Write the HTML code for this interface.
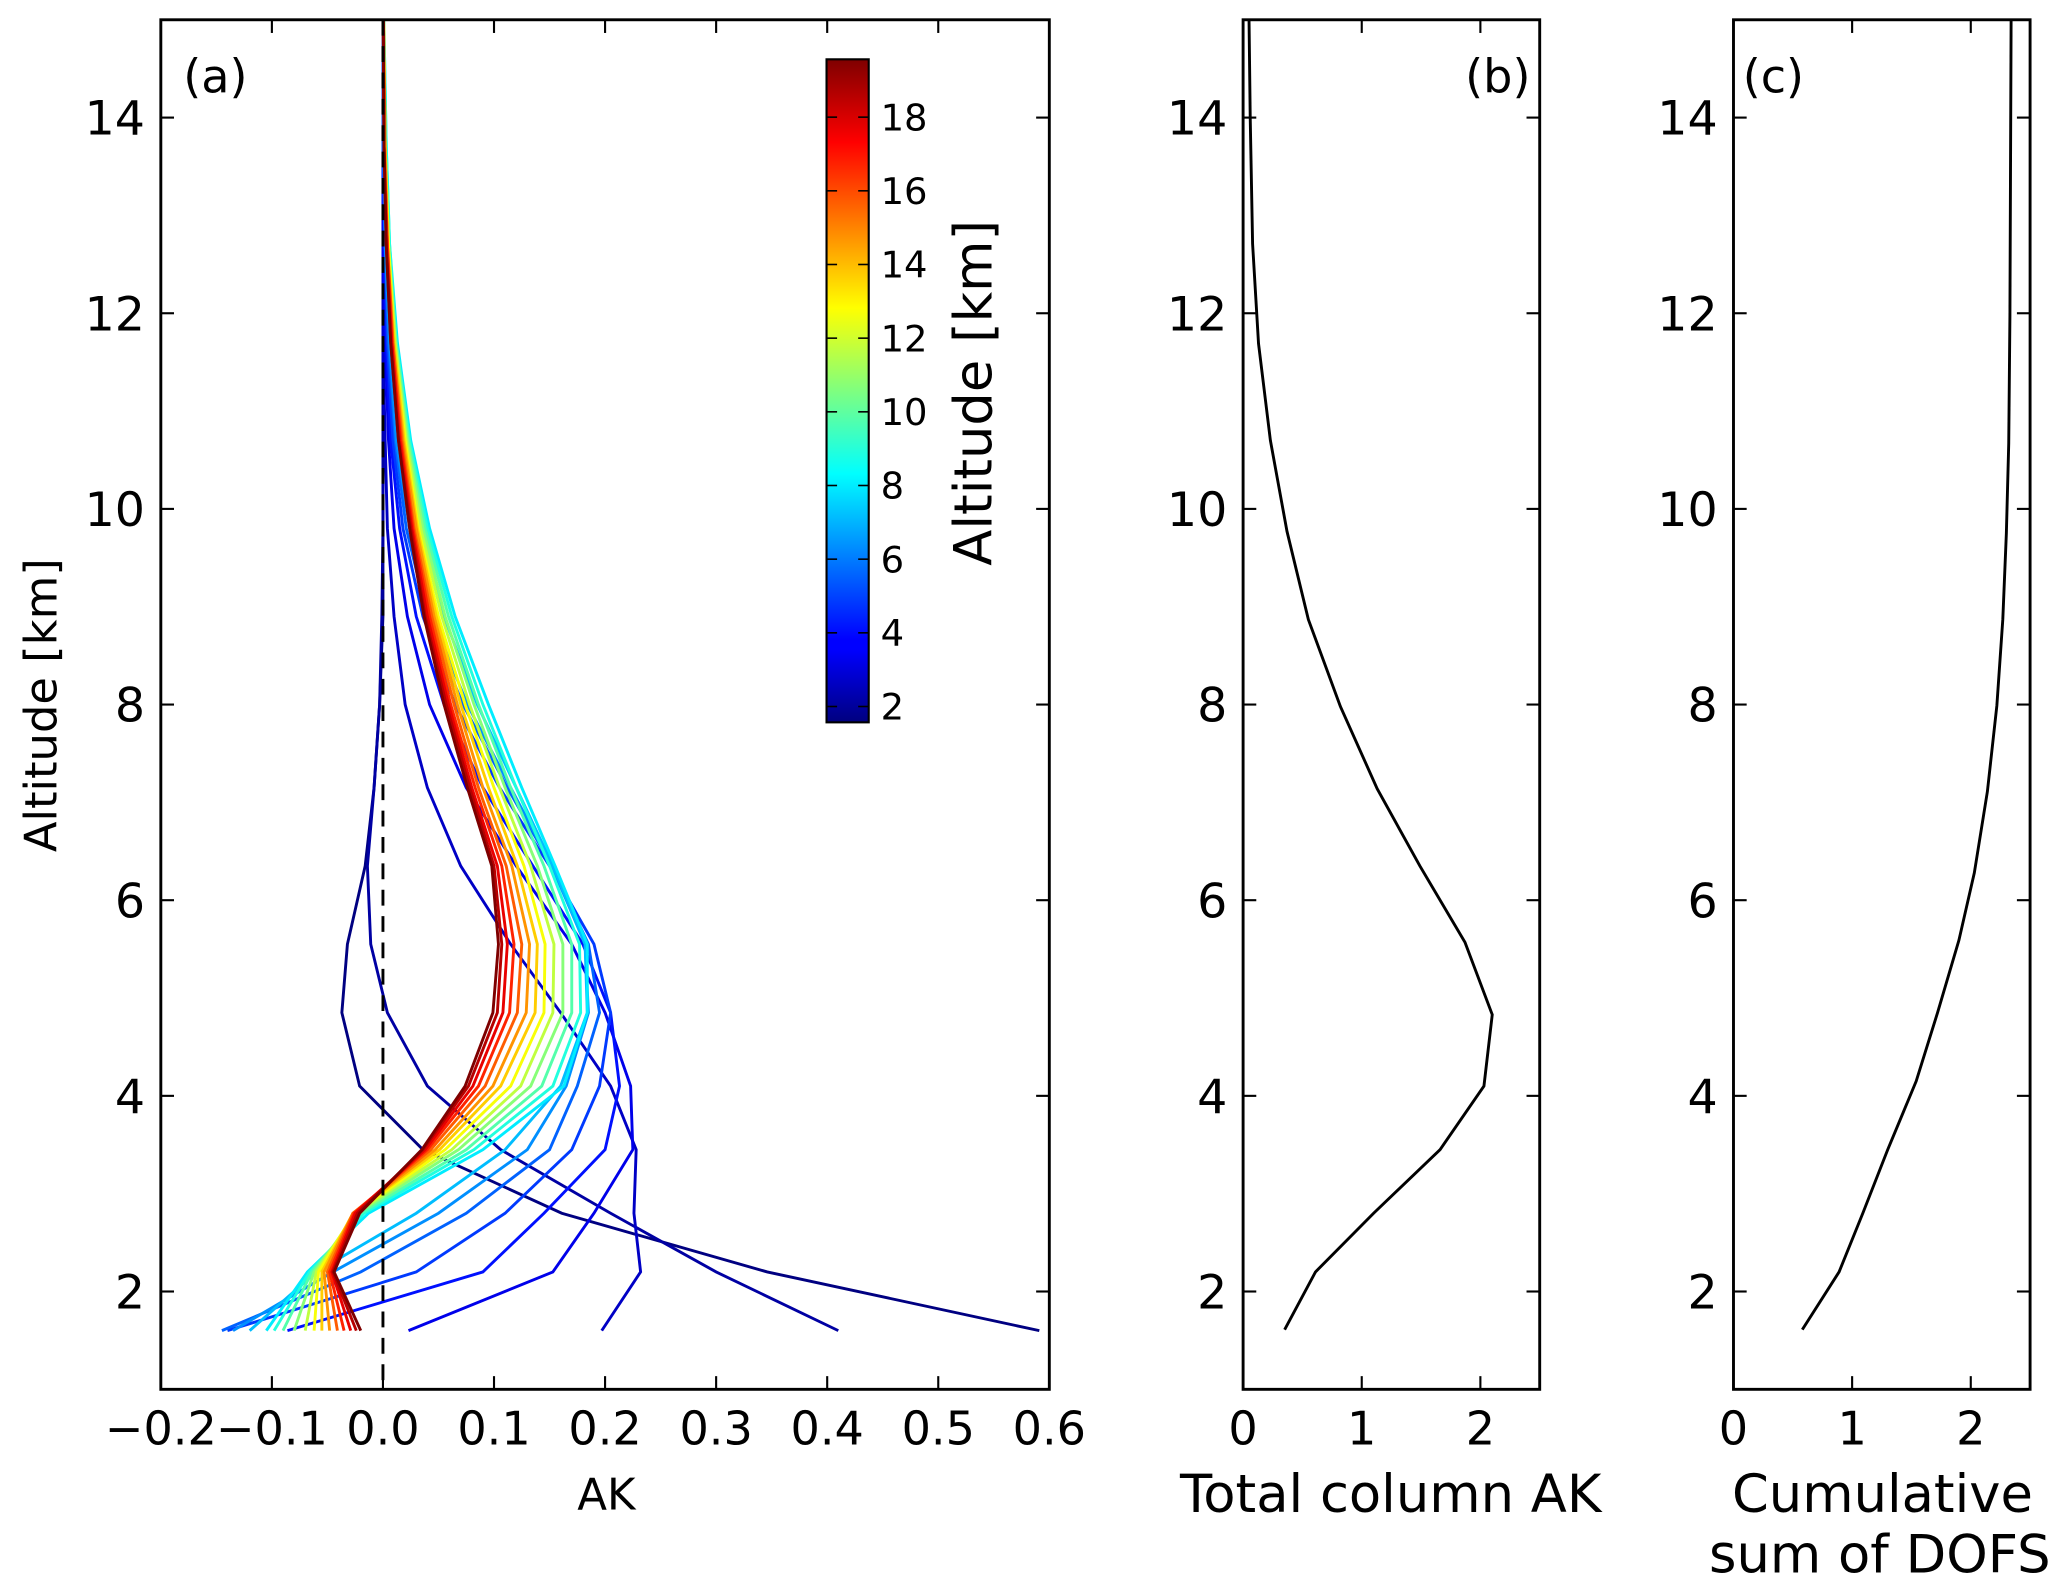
<!DOCTYPE html>
<html><head><meta charset="utf-8"><style>
html,body{margin:0;padding:0;background:#fff}
svg{display:block}
text{font-family:"DejaVu Sans","Liberation Sans",sans-serif;fill:#000}
</style></head><body>
<svg id="fig" width="2067" height="1591" viewBox="0 0 1568 1207" preserveAspectRatio="none" xmlns="http://www.w3.org/2000/svg">
<defs>
<clipPath id="clipA"><rect x="122" y="15" width="674" height="1039"/></clipPath>
<clipPath id="clipB"><rect x="943" y="15" width="225" height="1039"/></clipPath>
<clipPath id="clipC"><rect x="1315" y="15" width="225" height="1039"/></clipPath>
<linearGradient id="jetGrad" x1="0" y1="1" x2="0" y2="0">
<stop offset="0" stop-color="#00007f"/><stop offset="0.11" stop-color="#0000ff"/>
<stop offset="0.125" stop-color="#0000ff"/><stop offset="0.375" stop-color="#00ffff"/>
<stop offset="0.5" stop-color="#7fff7f"/><stop offset="0.625" stop-color="#ffff00"/>
<stop offset="0.875" stop-color="#ff0000"/><stop offset="1" stop-color="#7f0000"/>
</linearGradient>
</defs>
<g id="layer"></g>
</svg>
<script>
// ---- data ----
const levels = [1.6,2.2,2.8,3.45,4.1,4.85,5.55,6.35,7.15,8.0,8.9,9.8,10.7,11.7,12.7,13.7,15.5];
const kernelAltitudes = [1.6,2.2,2.8,3.45,4.1,4.85,5.55,6.35,7.15,8.0,8.9,9.8,10.7,11.7,12.7,13.7,14.7,15.7,16.7,17.7,18.6,19.6];
const k01 = [0.591,0.346,0.161,0.036,-0.021,-0.037,-0.032,-0.016,-0.008,-0.003,0,0,0,0,0,0,0];
const k02 = [0.41,0.30,0.205,0.106,0.04,0.004,-0.011,-0.014,-0.008,-0.003,-0.001,0,0,0,0,0,0];
const k03 = [0.197,0.232,0.226,0.228,0.205,0.16,0.115,0.07,0.04,0.02,0.01,0.004,0.002,0,0,0,0];
const k04 = [0.023,0.153,0.19,0.225,0.223,0.2,0.17,0.12,0.075,0.042,0.022,0.01,0.005,0.002,0,0,0];
const k05 = [-0.086,0.09,0.145,0.2,0.213,0.205,0.18,0.135,0.09,0.055,0.03,0.015,0.007,0.003,0.001,0,0];
const k06 = [-0.14,0.03,0.11,0.17,0.195,0.205,0.19,0.15,0.105,0.065,0.036,0.018,0.009,0.004,0.002,0,0];
const k07 = [-0.145,-0.02,0.075,0.15,0.175,0.195,0.185,0.152,0.112,0.072,0.04,0.021,0.011,0.005,0.002,0,0];
const k08 = [-0.135,-0.045,0.05,0.13,0.165,0.185,0.182,0.152,0.115,0.076,0.044,0.024,0.012,0.006,0.002,0.001,0];
const k09 = [-0.12,-0.06,0.03,0.11,0.16,0.184,0.182,0.153,0.12,0.085,0.055,0.033,0.018,0.008,0.003,0.001,0];
const k10 = [-0.105,-0.068,-0.013,0.09,0.163,0.184,0.184,0.155,0.125,0.095,0.065,0.042,0.025,0.013,0.006,0.003,0];
const k11 = [-0.098,-0.066,-0.017,0.082,0.153,0.178,0.177,0.15,0.12,0.09,0.062,0.04,0.024,0.012,0.006,0.003,0];
const k12 = [-0.09,-0.064,-0.02,0.075,0.143,0.17,0.17,0.145,0.115,0.086,0.059,0.038,0.023,0.012,0.005,0.002,0];
const k13 = [-0.08,-0.062,-0.023,0.068,0.133,0.162,0.162,0.139,0.11,0.082,0.056,0.036,0.022,0.011,0.005,0.002,0];
const k14 = [-0.07,-0.06,-0.025,0.062,0.124,0.153,0.154,0.133,0.105,0.078,0.053,0.034,0.021,0.011,0.005,0.002,0];
const k15 = [-0.062,-0.058,-0.026,0.056,0.115,0.145,0.146,0.127,0.1,0.074,0.05,0.032,0.02,0.01,0.005,0.002,0];
const k16 = [-0.055,-0.055,-0.027,0.051,0.106,0.137,0.139,0.121,0.095,0.07,0.048,0.031,0.019,0.01,0.004,0.002,0];
const k17 = [-0.048,-0.053,-0.027,0.047,0.099,0.129,0.132,0.116,0.09,0.067,0.046,0.03,0.018,0.009,0.004,0.002,0];
const k18 = [-0.041,-0.05,-0.027,0.043,0.092,0.121,0.125,0.111,0.086,0.064,0.044,0.028,0.017,0.009,0.004,0.001,0];
const k19 = [-0.035,-0.048,-0.026,0.04,0.086,0.114,0.118,0.107,0.083,0.061,0.042,0.027,0.016,0.008,0.004,0.001,0];
const k20 = [-0.029,-0.046,-0.025,0.038,0.081,0.108,0.112,0.103,0.08,0.059,0.04,0.026,0.015,0.008,0.003,0.001,0];
const k21 = [-0.024,-0.045,-0.023,0.036,0.077,0.103,0.107,0.1,0.078,0.057,0.038,0.025,0.014,0.007,0.003,0.001,0];
const k22 = [-0.02,-0.044,-0.021,0.035,0.074,0.099,0.104,0.098,0.076,0.055,0.037,0.024,0.014,0.007,0.003,0.001,0];
const kernels = [k01,k02,k03,k04,k05,k06,k07,k08,k09,k10,k11,k12,k13,k14,k15,k16,k17,k18,k19,k20,k21,k22];
const colLevels = [1.61,2.2,2.8,3.45,4.1,4.83,5.57,6.35,7.14,7.98,8.87,9.77,10.7,11.69,12.71,14.0,15.0];
const totalColumnAK = [0.35,0.61,1.10,1.66,2.03,2.10,1.87,1.49,1.13,0.82,0.55,0.37,0.23,0.13,0.08,0.06,0.05];
const dofsLevels = [1.61,2.2,2.8,3.45,4.15,4.85,5.59,6.28,7.11,7.99,8.87,9.75,10.67,11.97,15.0];
const cumulativeDOFS = [0.58,0.89,1.09,1.30,1.54,1.72,1.90,2.03,2.14,2.22,2.27,2.30,2.32,2.33,2.34];
const xTicksA = [-0.2,-0.1,0.0,0.1,0.2,0.3,0.4,0.5,0.6];
const xTickLabelsA = ["\u22120.2","\u22120.1","0.0","0.1","0.2","0.3","0.4","0.5","0.6"];
const yTicks = [2,4,6,8,10,12,14];
const xTicksBC = [0,1,2];
const cbTicks = [2,4,6,8,10,12,14,16,18];

// ---- axes ----
const NS="http://www.w3.org/2000/svg";
const L=document.getElementById('layer');
const yA=a=>15+(15-a)/14*1039;
const xA=v=>122+(v+0.2)/0.8*674;
const xB=v=>943+v/2.5*225;
const xC=v=>1315+v/2.5*225;
const cbY=a=>548-(a-1.57)/18*503;
function mk(tag,attrs,parent){const e=document.createElementNS(NS,tag);for(const k in attrs)e.setAttribute(k,attrs[k]);(parent||L).appendChild(e);return e;}
function jet(t){const r=Math.min(4*t-1.5,-4*t+4.5),g=Math.min(4*t-0.5,-4*t+3.5),b=Math.min(4*t+0.5,-4*t+2.5);const c=x=>Math.round(255*Math.max(0,Math.min(1,x)));return `rgb(${c(r)},${c(g)},${c(b)})`;}

function frame(x0,x1,name){
  const g=mk('g',{});
  
  
  yTicks.forEach(v=>{
    const y=yA(v);
    mk('line',{x1:x0,y1:y,x2:x0+10,y2:y,stroke:'#000','stroke-width':1.6},g);
    mk('line',{x1:x1-10,y1:y,x2:x1,y2:y,stroke:'#000','stroke-width':1.6},g);
    const t=mk('text',{x:x0-12,y:y+13,'text-anchor':'end','font-size':36},g);
    t.textContent=v;
    
    
  });
  return g;
}
// panel a
const gA=frame(122,796,'panel-a');
xTicksA.forEach((v,i)=>{
  const x=xA(v);
  mk('line',{x1:x,y1:1054,x2:x,y2:1044,stroke:'#000','stroke-width':1.6},gA);
  mk('line',{x1:x,y1:15,x2:x,y2:25,stroke:'#000','stroke-width':1.6},gA);
  const t=mk('text',{x:x,y:1096,'text-anchor':'middle','font-size':35},gA);
  t.textContent=xTickLabelsA[i];
  
  
});
const gLines=mk('g',{'clip-path':'url(#clipA)'});
kernels.forEach((k,i)=>{
  const t=(kernelAltitudes[i]-1.57)/18;
  const p=mk('polyline',{points:k.map((v,j)=>xA(v)+','+yA(levels[j])).join(' '),fill:'none',stroke:jet(t),'stroke-width':2.2,'stroke-linejoin':'miter'},gLines);
  
  
});
const dz=mk('line',{x1:xA(0),y1:yA(15),x2:xA(0),y2:yA(1),stroke:'#000','stroke-width':2.2,'stroke-dasharray':'12,8'});


mk('rect',{x:122,y:15,width:674,height:1039,fill:'none',stroke:'#000','stroke-width':2.2});

// colorbar
const cb=mk('rect',{x:627,y:45,width:32,height:503,fill:'url(#jetGrad)',stroke:'#000','stroke-width':1.6});


cbTicks.forEach(v=>{
  const y=cbY(v);
  mk('line',{x1:651,y1:y,x2:659,y2:y,stroke:'#000','stroke-width':1.2});
  mk('line',{x1:627,y1:y,x2:635,y2:y,stroke:'#000','stroke-width':1.2});
  const t=mk('text',{x:668,y:y+10,'font-size':28});
  t.textContent=v;
  
  
});

// panels b, c
const gB=frame(943,1168,'panel-b');
const gC=frame(1315,1540,'panel-c');
xTicksBC.forEach(v=>{
  [[xB,gB],[xC,gC]].forEach(([f,g])=>{
    const x=f(v);
    mk('line',{x1:x,y1:1054,x2:x,y2:1044,stroke:'#000','stroke-width':1.6},g);
    mk('line',{x1:x,y1:15,x2:x,y2:25,stroke:'#000','stroke-width':1.6},g);
    const t=mk('text',{x:x,y:1096,'text-anchor':'middle','font-size':35},g);
    t.textContent=v;
    
    
  });
});
const pb=mk('polyline',{points:totalColumnAK.map((v,j)=>xB(v)+','+yA(colLevels[j])).join(' '),fill:'none',stroke:'#000','stroke-width':2.2,'clip-path':'url(#clipB)'});


const pc=mk('polyline',{points:cumulativeDOFS.map((v,j)=>xC(v)+','+yA(dofsLevels[j])).join(' '),fill:'none',stroke:'#000','stroke-width':2.2,'clip-path':'url(#clipC)'});


mk('rect',{x:943,y:15,width:225,height:1039,fill:'none',stroke:'#000','stroke-width':2.2});
mk('rect',{x:1315,y:15,width:225,height:1039,fill:'none',stroke:'#000','stroke-width':2.2});
</script>
<svg style="position:absolute;left:0;top:0" width="2067" height="1591" viewBox="0 0 1568 1207" preserveAspectRatio="none" xmlns="http://www.w3.org/2000/svg">
<text x="139" y="70" font-size="35">(a)</text>
<text x="1161" y="70" font-size="35" text-anchor="end">(b)</text>
<text x="1322" y="70" font-size="35">(c)</text>
<text x="0" y="0" font-size="34" text-anchor="middle" transform="translate(43,535) rotate(-90)">Altitude [km]</text>
<text x="0" y="0" font-size="40" text-anchor="middle" transform="translate(752,298) rotate(-90)">Altitude [km]</text>
<text x="460" y="1145" font-size="33" text-anchor="middle">AK</text>
<text x="1055" y="1147" font-size="40" text-anchor="middle">Total column AK</text>
<text x="1428" y="1147" font-size="40" text-anchor="middle">Cumulative</text>
<text x="1426" y="1193" font-size="40" text-anchor="middle">sum of DOFS</text>
</svg>
</body></html>
